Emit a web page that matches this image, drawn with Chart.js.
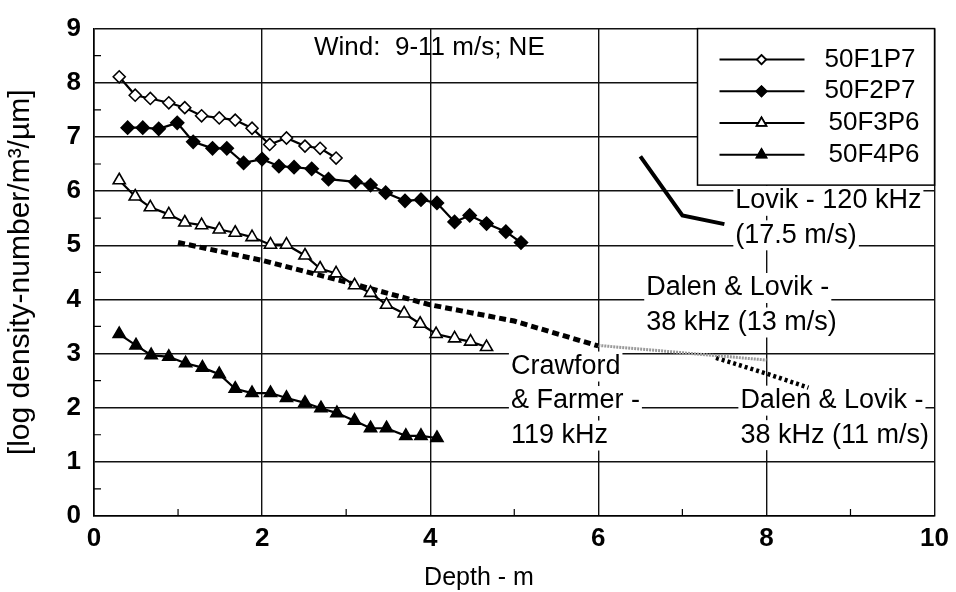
<!DOCTYPE html>
<html>
<head>
<meta charset="utf-8">
<script src="https://cdn.jsdelivr.net/npm/chart.js@4"></script>
<style>
    body { margin: 0; background: #fff; }
    #wrap { width: 956px; height: 592px; }
</style>
</head>
<body>
<div id="wrap"><canvas id="chart"></canvas></div>
<script>
// Series values (depth in m, log density)
const f1p7Depth = [0.30, 0.49, 0.67, 0.89, 1.08, 1.28, 1.49, 1.68, 1.88, 2.09, 2.29, 2.51, 2.69, 2.88];
const f1p7Value = [8.11, 7.77, 7.71, 7.63, 7.54, 7.39, 7.35, 7.31, 7.16, 6.86, 6.98, 6.83, 6.79, 6.61];

const f2p7Depth = [0.40, 0.58, 0.77, 0.99, 1.18, 1.41, 1.58, 1.78, 2.00, 2.20, 2.38, 2.59, 2.79, 3.11, 3.29, 3.47, 3.70, 3.89, 4.08, 4.29, 4.47, 4.67, 4.90, 5.08];
const f2p7Value = [7.17, 7.17, 7.15, 7.26, 6.91, 6.79, 6.79, 6.52, 6.59, 6.46, 6.44, 6.41, 6.22, 6.17, 6.11, 5.97, 5.82, 5.84, 5.78, 5.43, 5.55, 5.40, 5.25, 5.05];

const f3p6Depth = [0.30, 0.49, 0.67, 0.89, 1.08, 1.28, 1.49, 1.68, 1.88, 2.10, 2.29, 2.51, 2.69, 2.88, 3.10, 3.29, 3.48, 3.69, 3.88, 4.07, 4.29, 4.48, 4.67];
const f3p6Value = [6.20, 5.90, 5.70, 5.57, 5.42, 5.37, 5.29, 5.23, 5.15, 5.01, 5.01, 4.81, 4.57, 4.48, 4.26, 4.12, 3.90, 3.74, 3.55, 3.36, 3.28, 3.22, 3.12];

const f4p6Depth = [0.30, 0.50, 0.68, 0.89, 1.09, 1.29, 1.49, 1.68, 1.88, 2.10, 2.29, 2.51, 2.70, 2.89, 3.10, 3.29, 3.48, 3.71, 3.89, 4.08];
const f4p6Value = [3.36, 3.15, 2.97, 2.94, 2.82, 2.74, 2.62, 2.35, 2.27, 2.27, 2.18, 2.09, 1.99, 1.90, 1.76, 1.62, 1.62, 1.48, 1.48, 1.44];

// Literature curves
const crawfordDepth = [1.0, 2.0, 3.0, 4.0, 5.0, 6.0];
const crawfordValue = [5.05, 4.72, 4.32, 3.90, 3.60, 3.14];
const dalen13Depth = [6.0, 8.0];
const dalen13Value = [3.15, 2.88];
const dalen11Depth = [7.4, 8.0, 8.5];
const dalen11Value = [2.92, 2.63, 2.37];
const lovikDepth = [6.5, 7.0, 7.5];
const lovikValue = [6.64, 5.55, 5.39];

const seriesNames = ['50F1P7', '50F2P7', '50F3P6', '50F4P6'];
const xTicks = [0, 2, 4, 6, 8, 10];
const yTicks = [0, 1, 2, 3, 4, 5, 6, 7, 8, 9];

const FONT = "'Liberation Sans', Arial, Helvetica, sans-serif";

function toPoints(xs, ys) {
    return xs.map((x, i) => ({ x: x, y: ys[i] }));
}

// Text labels placed in data coordinates (left edge, centre of first line)
const notes = [
    { lines: ['Lovik - 120 kHz', '(17.5 m/s)'], x: 7.63, y: 5.82 },
    { lines: ['Dalen & Lovik -', '38 kHz (13 m/s)'], x: 6.57, y: 4.21 },
    { lines: ['Crawford', '& Farmer -', '119 kHz'], x: 4.96, y: 2.76 },
    { lines: ['Dalen & Lovik -', '38 kHz (11 m/s)'], x: 7.69, y: 2.13 }
];

const notesPlugin = {
    id: 'notes',
    beforeDatasetsDraw(chart) {
        const ctx = chart.ctx;
        const xs = chart.scales.x, ys = chart.scales.y;
        ctx.save();
        ctx.textBaseline = 'middle';
        ctx.font = '27px ' + FONT;
        notes.forEach(n => {
            const left = xs.getPixelForValue(n.x);
            let top = ys.getPixelForValue(n.y);
            n.lines.forEach((t, i) => {
                const yy = top + i * 34.5;
                const w = ctx.measureText(t).width;
                ctx.fillStyle = '#fff';
                ctx.fillRect(left - 2, yy - 15, w + 4, 30);
                ctx.fillStyle = '#000';
                ctx.fillText(t, left, yy);
            });
        });
        // wind caption
        ctx.font = '26px ' + FONT;
        ctx.textAlign = 'center';
        ctx.fillText('Wind:  9-11 m/s; NE', xs.getPixelForValue(3.99), ys.getPixelForValue(8.64));
        // x axis title, sits a bit left of centre in the original
        ctx.font = '25px ' + FONT;
        ctx.fillText('Depth - m', xs.getPixelForValue(4.58), chart.chartArea.bottom + 62);
        ctx.restore();
    },
    afterDraw(chart) {
        const ctx = chart.ctx;
        const area = chart.chartArea;
        const xs = chart.scales.x, ys = chart.scales.y;
        ctx.save();
        // minor ticks
        ctx.strokeStyle = '#000';
        ctx.lineWidth = 1.2;
        ctx.beginPath();
        for (let v = 0.5; v < 9; v += 1) {
            const p = ys.getPixelForValue(v);
            ctx.moveTo(area.left, p);
            ctx.lineTo(area.left + 7, p);
        }
        for (let v = 1; v < 10; v += 2) {
            const p = xs.getPixelForValue(v);
            ctx.moveTo(p, area.bottom);
            ctx.lineTo(p, area.bottom - 7);
        }
        ctx.stroke();

        // legend box
        const bx = xs.getPixelForValue(7.18);
        const by = area.top;
        const bw = area.right - bx;
        const bh = ys.getPixelForValue(6.11) - by;
        ctx.fillStyle = '#fff';
        ctx.fillRect(bx, by, bw, bh);
        ctx.lineWidth = 1.5;
        ctx.strokeRect(bx, by, bw, bh);
        ctx.font = '26px ' + FONT;
        ctx.textBaseline = 'middle';
        chart.data.datasets.slice(0, 4).forEach((ds, i) => {
            const yy = by + 31 + i * 31.7;
            ctx.strokeStyle = '#000';
            ctx.lineWidth = 2;
            ctx.beginPath();
            ctx.moveTo(bx + 22, yy);
            ctx.lineTo(bx + 107, yy);
            ctx.stroke();
            Chart.helpers.drawPoint(ctx, {
                pointStyle: ds.pointStyle,
                radius: ds.pointRadius - 1.5,
                borderWidth: 1.5,
                rotation: 0
            }, bx + 64, yy);
            ctx.fillStyle = ds.pointBackgroundColor;
            ctx.strokeStyle = '#000';
            ctx.lineWidth = 1.5;
            ctx.fill();
            ctx.stroke();
            ctx.fillStyle = '#000';
            ctx.fillText(ds.label, bx + (i < 2 ? 127 : 131), yy);
        });
        ctx.restore();
    }
};

function markerSeries(label, xs, ys, style, fill, r) {
    return {
        label: label,
        data: toPoints(xs, ys),
        borderColor: '#000',
        borderWidth: 2.2,
        pointStyle: style,
        pointRadius: r,
        pointBackgroundColor: fill,
        pointBorderColor: '#000',
        pointBorderWidth: 1.6,
        showLine: true,
        tension: 0
    };
}

function curve(label, xs, ys, color, width, dash) {
    return {
        label: label,
        data: toPoints(xs, ys),
        borderColor: color,
        borderWidth: width,
        borderDash: dash,
        pointRadius: 0,
        showLine: true,
        tension: 0
    };
}

new Chart(document.getElementById('chart'), {
    type: 'scatter',
    data: {
        datasets: [
            markerSeries(seriesNames[0], f1p7Depth, f1p7Value, 'rectRot', '#fff', 6),
            markerSeries(seriesNames[1], f2p7Depth, f2p7Value, 'rectRot', '#000', 6.5),
            markerSeries(seriesNames[2], f3p6Depth, f3p6Value, 'triangle', '#fff', 7),
            markerSeries(seriesNames[3], f4p6Depth, f4p6Value, 'triangle', '#000', 7),
            curve('Crawford & Farmer', crawfordDepth, crawfordValue, '#000', 5, [7, 4]),
            curve('Dalen & Lovik 13', dalen13Depth, dalen13Value, '#9a9a9a', 3, [2, 1]),
            curve('Dalen & Lovik 11', dalen11Depth, dalen11Value, '#000', 4.5, [3, 3]),
            curve('Lovik', lovikDepth, lovikValue, '#000', 4, [])
        ]
    },
    options: {
        responsive: true,
        maintainAspectRatio: false,
        animation: false,
        layout: { padding: { left: 0, right: 19, top: 17, bottom: 0 } },
        plugins: {
            legend: { display: false },
            tooltip: { enabled: false }
        },
        scales: {
            x: {
                type: 'linear',
                min: 0,
                max: 10,
                afterBuildTicks: s => { s.ticks = xTicks.map(v => ({ value: v })); },
                afterFit: s => { s.height = 76; },
                grid: { color: '#111', lineWidth: 1.4, drawTicks: false },
                border: { color: '#000', width: 1.6 },
                ticks: { color: '#000', font: { family: FONT, size: 26, weight: 'bold' }, padding: 7 }
            },
            y: {
                type: 'linear',
                min: 0,
                max: 9,
                afterBuildTicks: s => { s.ticks = yTicks.map(v => ({ value: v })); },
                afterFit: s => { s.width = 94; },
                grid: { color: '#111', lineWidth: 1.4, drawTicks: false },
                border: { color: '#000', width: 1.6 },
                ticks: { color: '#000', font: { family: FONT, size: 26, weight: 'bold' }, padding: 13 },
                title: { display: true, text: '[log density-number/m\u00b3/\u00b5m]', color: '#000', font: { family: FONT, size: 30 }, padding: { top: 3, bottom: 0 } }
            }
        }
    },
    plugins: [notesPlugin]
});
</script>
</body>
</html>
